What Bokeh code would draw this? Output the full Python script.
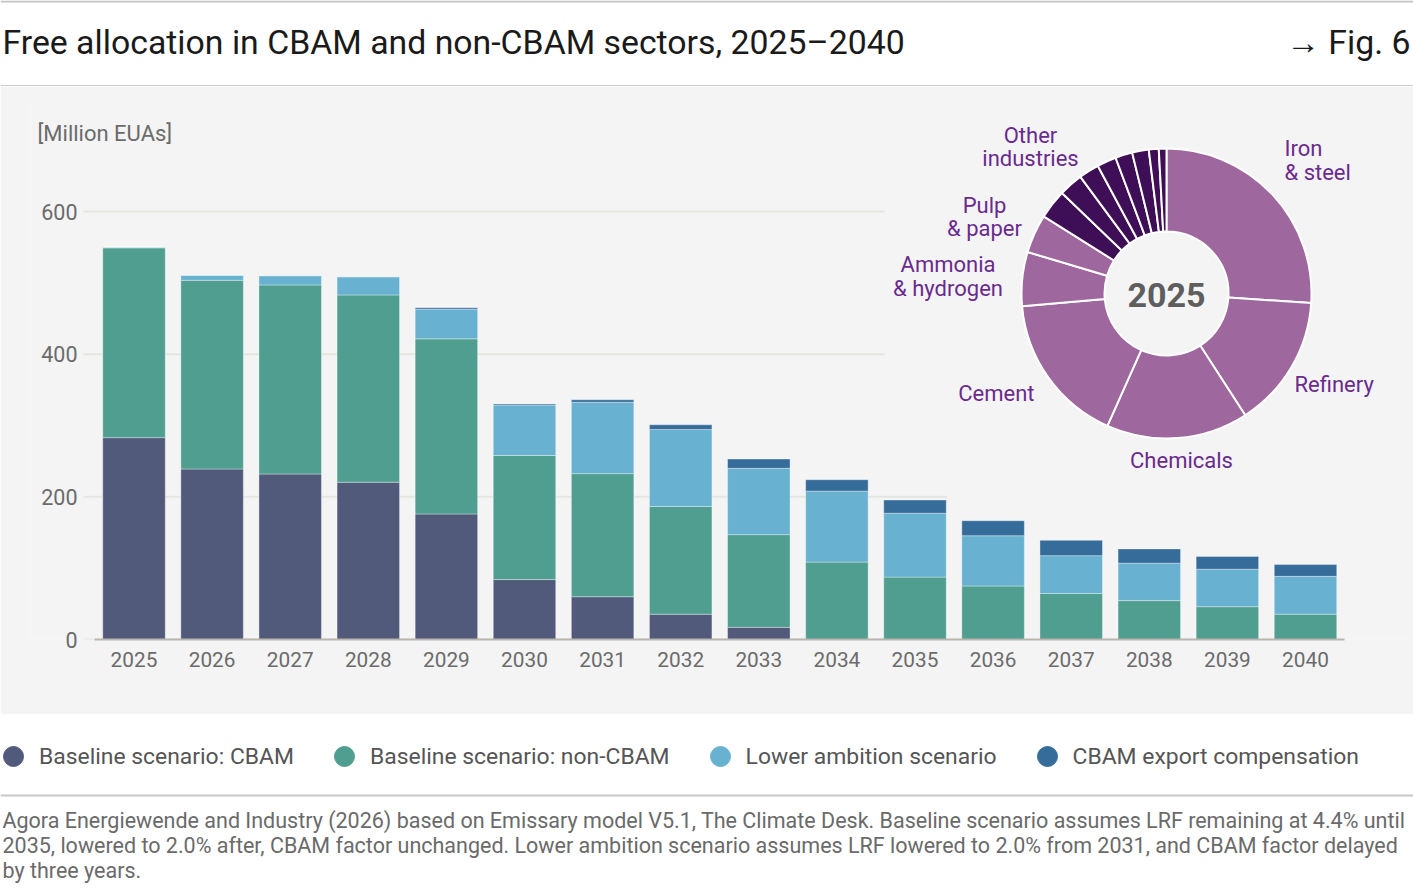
import numpy as np
from bokeh.plotting import figure
from bokeh.models import (ColumnDataSource, Range1d, FixedTicker, Label, Span,
                          Legend, LegendItem, BasicTickFormatter)
from bokeh.layouts import column
from bokeh.core.properties import value
from bokeh.embed import file_html
from bokeh.resources import INLINE

# ---------------- data ----------------
years = list(range(2025, 2041))
cbam = [283, 239, 232, 220.5, 176, 84, 60, 35.5, 17, 0, 0, 0, 0, 0, 0, 0]
non_cbam = [266, 264.5, 265, 262.5, 245.5, 174, 172.5, 151, 130, 108.5, 87.5, 75, 64.5, 54.5, 46, 35.5]
lower_ambition = [1, 7, 13, 25.5, 41.5, 70.5, 100, 108, 93, 99.5, 89.5, 70.5, 53, 52.5, 52.5, 53]
export_comp = [0, 0, 0, 0, 2, 1.5, 3.5, 6.5, 13, 16, 18.5, 21, 21.5, 20, 18, 16.5]
y_ticks = [0, 200, 400, 600]

series_names = ["Baseline scenario: CBAM", "Baseline scenario: non-CBAM",
                "Lower ambition scenario", "CBAM export compensation"]

pie_year = "2025"
sectors = ["Iron & steel", "Refinery", "Chemicals", "Cement", "Ammonia & hydrogen", "Pulp & paper"]
sector_shares = [26.0, 14.8, 15.8, 16.9, 6.0, 4.3]
other_shares = [3.25, 2.7, 2.25, 2.15, 1.9, 1.85, 1.1, 0.85]

title_text = "Free allocation in CBAM and non-CBAM sectors, 2025\u20132040"
fig_text = "\u2192 Fig. 6"
unit_text = "[Million EUAs]"
footnote = [
    "Agora Energiewende and Industry (2026) based on Emissary model V5.1, The Climate Desk. Baseline scenario assumes LRF remaining at 4.4% until",
    "2035, lowered to 2.0% after, CBAM factor unchanged. Lower ambition scenario assumes LRF lowered to 2.0% from 2031, and CBAM factor delayed",
    "by three years.",
]

# ---------------- style ----------------
FONT = "Roboto"
W = 1413
BG = "#f4f4f4"
colors = ["#525a7c", "#4f9e8f", "#68b1d0", "#366c9a"]
pie_light = "#9e679d"
pie_dark = "#3e0e56"
label_purple = "#6a2a8e"
tick_color = "#6b6b6b"

# ---------------- header ----------------
head = figure(width=W, height=86, x_range=Range1d(0, W), y_range=Range1d(86, 0),
              x_axis_type=None, y_axis_type=None, min_border=0, toolbar_location=None,
              output_backend="svg", outline_line_color=None, frame_align=False,
              background_fill_color="white", border_fill_color="white")
head.add_layout(Span(location=1, dimension="width", line_color="#c4c4c4", line_width=2))
head.add_layout(Span(location=85.5, dimension="width", line_color="#bdbdbd", line_width=1.5))
head.add_layout(Label(x=2, y=42, text=title_text, text_font=FONT, text_font_size="33.8px",
                      text_color="#1a1a1a", text_baseline="middle"))
head.add_layout(Label(x=1410, y=42, text=fig_text, text_font=FONT, text_font_size="33.8px",
                      text_color="#1a1a1a", text_baseline="middle", text_align="right"))

# ---------------- main chart ----------------
main_top, main_h = 86, 628
fl, fr, ft, fb = 30, 1413, 100, 639          # frame edges (page px)
grid_left = 83                                 # gridlines start here
tick_right = 77                                # y tick labels end here
ppy = (1305 - 133.5) / 15                      # px per year
ppu = (639 - 211) / 600                        # px per unit
x_start = 2025 - (133.5 - fl) / ppy
x_end = 2040 + (fr - 1305) / ppy
y_end = (fb - ft) / ppu

p = figure(width=W, height=main_h, x_range=Range1d(x_start, x_end), y_range=Range1d(0, y_end),
           output_backend="svg", toolbar_location=None, frame_align=False,
           min_border_left=fl, min_border_right=W - fr,
           min_border_top=ft - main_top, min_border_bottom=main_top + main_h - fb,
           background_fill_color=BG, border_fill_color=BG, outline_line_color=None)
p.xgrid.visible = False
p.ygrid.visible = False

def px_to_year(px):
    return x_start + (px - fl) / ppy

grid_end_px = {0: 884, 200: 947, 400: 884, 600: 884}
p.segment(x0=[px_to_year(grid_left)] * len(y_ticks), y0=y_ticks,
          x1=[px_to_year(grid_end_px[t]) for t in y_ticks], y1=y_ticks,
          line_color="#e6e6e0", line_width=2)

src = ColumnDataSource(dict(year=years, cbam=cbam, non_cbam=non_cbam,
                            lower=lower_ambition, export=export_comp))
p.vbar_stack(["cbam", "non_cbam", "lower", "export"], x="year", width=0.8,
             fill_color=colors, line_color="#ffffff", line_alpha=0.35, line_width=1,
             source=src)

p.yaxis.ticker = FixedTicker(ticks=y_ticks)
p.yaxis.axis_line_color = None
p.yaxis.major_tick_line_color = None
p.yaxis.minor_tick_line_color = None
p.yaxis.major_tick_out = 0
p.yaxis.major_label_standoff = -(tick_right - fl)
p.yaxis.major_label_text_font = FONT
p.yaxis.major_label_text_font_size = "21.5px"
p.yaxis.major_label_text_color = tick_color

p.xaxis.ticker = FixedTicker(ticks=years)
p.xaxis.formatter = BasicTickFormatter(use_scientific=False)
p.xaxis.axis_line_color = "#b8b6ae"
p.xaxis.axis_line_width = 2
p.xaxis.bounds = (2024.5, 2040.5)
p.xaxis.major_tick_line_color = None
p.xaxis.minor_tick_line_color = None
p.xaxis.major_label_standoff = 6
p.xaxis.major_label_text_font = FONT
p.xaxis.major_label_text_font_size = "20.8px"
p.xaxis.major_label_text_color = tick_color

# donut on its own pixel-scaled ranges, centred on the donut centre
cx, cy = 1166, 293
p.extra_x_ranges = {"pie": Range1d(fl - cx, fr - cx)}
p.extra_y_ranges = {"pie": Range1d(cy - fb, cy - ft)}

shares = sector_shares + other_shares
cum = np.concatenate([[0], np.cumsum(shares)]) / sum(shares) * 2 * np.pi
pie_src = ColumnDataSource(dict(
    start=np.pi / 2 - cum[1:], end=np.pi / 2 - cum[:-1],
    color=[pie_light] * len(sector_shares) + [pie_dark] * len(other_shares)))
p.annular_wedge(x=0, y=0, inner_radius=62, outer_radius=145,
                start_angle="start", end_angle="end", fill_color="color",
                line_color="#ffffff", line_width=2, source=pie_src,
                x_range_name="pie", y_range_name="pie")

lab = ColumnDataSource(dict(
    x=[-136, -136, 118, 118, -182, -182, -218.5, -218.5, -132, 15, 128],
    y=[158, 135, 145, 121, 88, 65, 29, 5, -100, -167, -91],
    text=["Other", "industries", "Iron", "& steel", "Pulp", "& paper",
          "Ammonia", "& hydrogen", "Cement", "Chemicals", "Refinery"],
    align=["center", "center", "left", "left", "center", "center",
           "center", "center", "right", "center", "left"]))
p.text(x="x", y="y", text="text", text_align="align", text_baseline="middle",
       text_font=value(FONT), text_font_size="22px", text_color=label_purple,
       source=lab, x_range_name="pie", y_range_name="pie")
p.text(x=[0], y=[-1], text=[pie_year], text_align="center", text_baseline="middle",
       text_font=value(FONT), text_font_size="34px", text_font_style="bold",
       text_color="#5e5e5e", x_range_name="pie", y_range_name="pie")

p.add_layout(Label(x=37 - cx, y=cy - 133, x_range_name="pie", y_range_name="pie",
                   text=unit_text, text_font=FONT, text_font_size="22px",
                   text_color=tick_color, text_baseline="middle"))

# ---------------- legend + footnote ----------------
bot_h = 180
bot = figure(width=W, height=bot_h, x_range=Range1d(0, W), y_range=Range1d(bot_h, 0),
             x_axis_type=None, y_axis_type=None, min_border=0, toolbar_location=None,
             output_backend="svg", outline_line_color=None, frame_align=False,
             background_fill_color="white", border_fill_color="white")
items = []
for name, c in zip(series_names, colors):
    r = bot.scatter(x=[np.nan], y=[np.nan], size=20, marker="circle", fill_color=c, line_color=c)
    items.append(LegendItem(label=name, renderers=[r]))
leg = Legend(items=items, orientation="horizontal", location=(-12, bot_h - 67),
             glyph_width=50, glyph_height=50, label_standoff=1, spacing=25,
             padding=0, margin=0, background_fill_alpha=0, border_line_color=None,
             label_text_font=FONT, label_text_font_size="22.9px", label_text_color="#555555")
bot.add_layout(leg)
bot.add_layout(Span(location=81, dimension="width", line_color="#c8c8c8", line_width=2))
for i, line in enumerate(footnote):
    bot.add_layout(Label(x=2, y=106 + 25 * i, text=line, text_font=FONT,
                         text_font_size="21.5px", text_color="#6a6a6a", text_baseline="middle"))

layout = column(head, p, bot, spacing=0)
open("out.html", "w").write(file_html(layout, INLINE))
